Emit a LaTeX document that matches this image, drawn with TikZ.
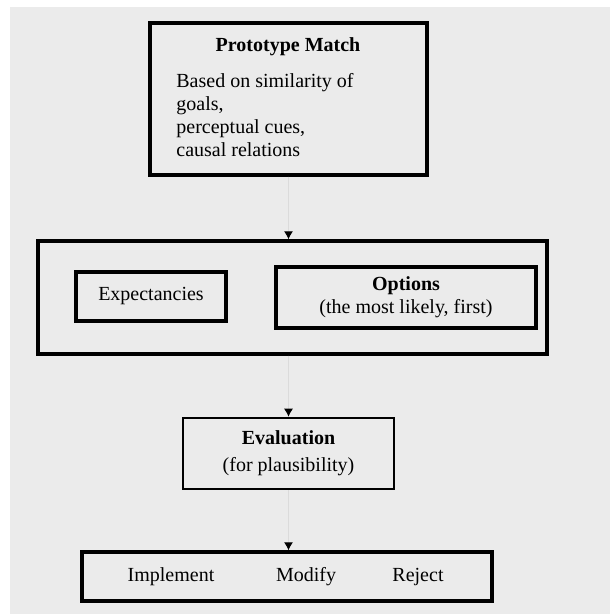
\documentclass[tikz,border=0pt]{standalone}
\usepackage{fontspec}
\setmainfont{Liberation Serif}
\usetikzlibrary{arrows.meta,positioning}
\definecolor{bggray}{HTML}{EBEBEB}
\begin{document}
\begin{tikzpicture}[x=1pt,y=-1pt,
  font=\fontsize{10}{11.5}\selectfont,
  box/.style={draw,line width=1.7pt,inner sep=0pt,align=center},
  lbl/.style={inner sep=0pt,align=center},
  arr/.style={draw=black!14,line width=0.5pt,-{Latex[black,length=4pt,width=4.5pt]}}]
\useasboundingbox (0,0) rectangle (305,307);
\fill[bggray] (5,3.5) rectangle (305,307);
\node[box,minimum width=138.5pt,minimum height=76pt] (proto) at (144.25,49.5) {};
\node[lbl] (ptitle) at (144,23.5) {\textbf{Prototype Match}};
\node[lbl,align=left,anchor=north west] (pbody) at (88,36.5)
  {Based on similarity of\\goals,\\perceptual cues,\\causal relations};
\node[box,minimum width=254.5pt,minimum height=56.5pt] (gen) at (146.25,148.75) {};
\node[box,minimum width=75pt,minimum height=24.5pt] (expect) at (75.5,148.25) {Expectancies};
\node[box,line width=1.9pt,minimum width=130pt,minimum height=30.5pt] (opt) at (203,148.75)
  {\textbf{Options}\\(the most likely, first)};
\node[box,line width=1.3pt,minimum width=105.5pt,minimum height=35.5pt] (eval) at (144.25,226.75)
  {\textbf{Evaluation}\\[2pt](for plausibility)};
\node[box,minimum width=205pt,minimum height=24.5pt] (act) at (143.5,288.25) {};
\node[lbl] (impl) at (85.5,288.5) {Implement};
\node[lbl] (modif) at (153,288.5) {Modify};
\node[lbl] (rej) at (209,288.5) {Reject};
\draw[arr] (proto.south) -- (proto.south |- gen.north);
\draw[arr] (proto.south |- gen.south) -- (proto.south |- eval.north);
\draw[arr] (proto.south |- eval.south) -- (proto.south |- act.north);
\end{tikzpicture}
\end{document}
